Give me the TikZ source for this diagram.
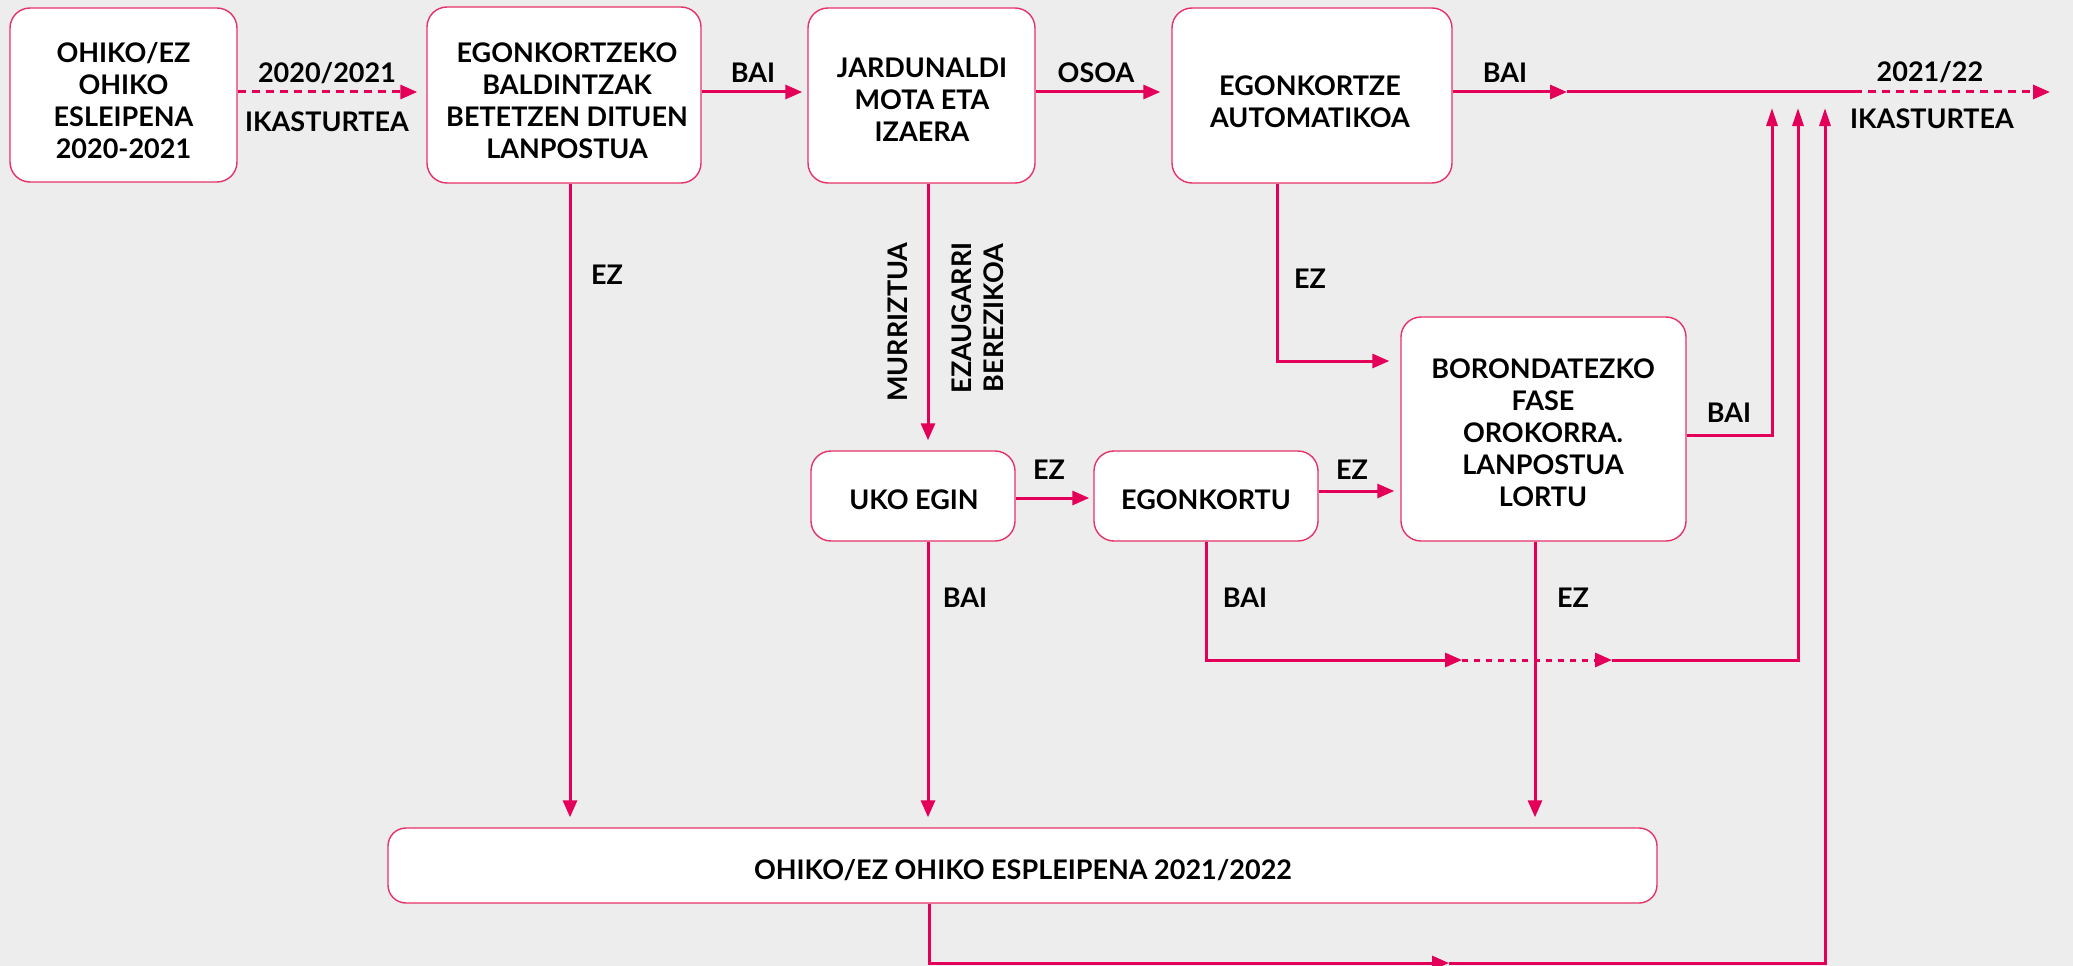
\documentclass[tikz,border=0pt]{standalone}
\usepackage{fontspec}
\setmainfont{Lato}
\usetikzlibrary{arrows.meta}
\definecolor{bg}{HTML}{EDEDED}
\definecolor{ln}{RGB}{228,0,88}
\definecolor{bd}{RGB}{230,50,105}
\begin{document}
\begin{tikzpicture}[x=1pt,y=-1pt,
  box/.style={draw=bd, line width=1.4pt, fill=white, rounded corners=20pt, inner sep=0pt},
  txt/.style={font=\fontsize{27}{32}\selectfont\bfseries, align=center, inner sep=0pt, text=black},
  con/.style={draw=ln, line width=3pt},
  arr/.style={con, -{Triangle[length=17pt,width=14pt]}},
  uparr/.style={con, -{Triangle[length=18pt,width=11pt]}},
  dsh/.style={dash pattern=on 8pt off 6pt}
]
\useasboundingbox[fill=bg] (0,0) rectangle (2073,966);

% boxes
\node[box, minimum width=227pt, minimum height=174pt] (b1) at (123.5,95) {};
\node[box, minimum width=274pt, minimum height=176pt] (b2) at (564,95) {};
\node[box, minimum width=227pt, minimum height=175pt] (b3) at (921.5,95.5) {};
\node[box, minimum width=280pt, minimum height=175pt] (b4) at (1312,95.5) {};
\node[box, minimum width=285pt, minimum height=224pt] (b5) at (1543.5,429) {};
\node[box, minimum width=204pt, minimum height=90pt] (uko) at (913,496) {};
\node[box, minimum width=224pt, minimum height=90pt] (eg) at (1206,496) {};
\node[box, minimum width=1269pt, minimum height=75pt, rounded corners=18pt] (b8) at (1022.5,865.5) {};

% box texts
\node[txt] (t1) at (123.5,100.5) {OHIKO/EZ\\OHIKO\\ESLEIPENA\\2020-2021};
\node[txt] (t2) at (567,100.5) {EGONKORTZEKO\\BALDINTZAK\\BETETZEN DITUEN\\LANPOSTUA};
\node[txt] (t3) at (922,100) {JARDUNALDI\\MOTA ETA\\IZAERA};
\node[txt] (t4) at (1310,102) {EGONKORTZE\\AUTOMATIKOA};
\node[txt] (t5) at (1543,433) {BORONDATEZKO\\FASE\\OROKORRA.\\LANPOSTUA\\LORTU};
\node[txt] (t6) at (914,500) {UKO EGIN};
\node[txt] (t7) at (1206,500) {EGONKORTU};
\node[txt] (t8) at (1023,870) {OHIKO/EZ OHIKO ESPLEIPENA 2021/2022};

% connector labels
\node[txt] (l1) at (327,73) {2020/2021};
\node[txt] (l2) at (327,122) {IKASTURTEA};
\node[txt] (l3) at (753,73) {BAI};
\node[txt] (l4) at (1096,73) {OSOA};
\node[txt] (l5) at (1505,73) {BAI};
\node[txt] (l6) at (1930,72) {2021/22};
\node[txt] (l7) at (1932,119) {IKASTURTEA};
\node[txt] (l8) at (607,275) {EZ};
\node[txt, rotate=90] (l9) at (898,322) {MURRIZTUA};
\node[txt, rotate=90] (l10) at (977.5,318) {EZAUGARRI\\BEREZIKOA};
\node[txt] (l11) at (1310,279) {EZ};
\node[txt] (l12) at (1049,470) {EZ};
\node[txt] (l13) at (1352,470) {EZ};
\node[txt] (l14) at (1729,413) {BAI};
\node[txt] (l15) at (965,598) {BAI};
\node[txt] (l16) at (1245,598) {BAI};
\node[txt] (l17) at (1573,598) {EZ};

% free-end coordinates
\coordinate (m1) at (1567,92);
\coordinate (ds) at (1854,92);
\coordinate (de) at (2050,92);
\coordinate (k1) at (1277,361);
\coordinate (c1) at (1772,435);
\coordinate (u1) at (1772,108);
\coordinate (c2) at (1206,660);
\coordinate (m2) at (1462,660);
\coordinate (m3) at (1612,660);
\coordinate (c3) at (1798,660);
\coordinate (u2) at (1798,108);
\coordinate (c4) at (929,963);
\coordinate (m4) at (1449,963);
\coordinate (c5) at (1825,963);
\coordinate (u3) at (1825,108);

% connectors
\draw[arr, dsh, shorten >=9pt] (b1.east |- 0,92) -- (b2.west |- 0,92);
\draw[arr, shorten >=5pt] (b2.east |- 0,92) -- (b3.west |- 0,92);
\draw[arr, shorten >=11pt] (b3.east |- 0,92) -- (b4.west |- 0,92);
\draw[arr] (b4.east |- 0,92) -- (m1);
\draw[con] (m1) -- (ds);
\draw[arr, dsh] (ds) -- (de);

\draw[arr, shorten >=10pt] (b2.south -| 570,0) -- (b8.north -| 570,0);
\draw[arr, shorten >=10pt] (b3.south -| 928,0) -- (uko.north -| 928,0);
\draw[arr, shorten >=11pt] (b4.south -| 1277,0) -- (k1) -- (b5.west |- k1);
\draw[arr, shorten >=4pt] (uko.east |- 0,498) -- (eg.west |- 0,498);
\draw[arr, shorten >=6pt] (eg.east |- 0,491) -- (b5.west |- 0,491);
\draw[uparr] (b5.east |- c1) -- (c1) -- (u1);
\draw[arr, shorten >=10pt] (uko.south -| 928,0) -- (b8.north -| 928,0);
\draw[arr] (eg.south -| c2) -- (c2) -- (m2);
\draw[arr, dash pattern=on 6pt off 6pt] (m2) -- (m3);
\draw[uparr] (m3) -- (c3) -- (u2);
\draw[arr, shorten >=10pt] (b5.south -| 1535,0) -- (b8.north -| 1535,0);
\draw[arr] (b8.south -| c4) -- (c4) -- (m4);
\draw[uparr] (m4) -- (c5) -- (u3);
\end{tikzpicture}
\end{document}
